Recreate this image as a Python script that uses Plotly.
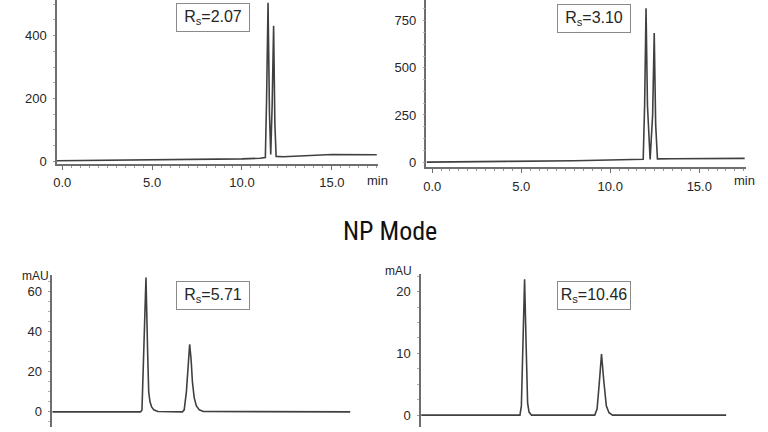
import plotly.graph_objects as go

W, H = 768, 432

# ---------------- data ----------------
# Top-left chromatogram (time in min, signal)
tl_time = [-0.29, 2.0, 6.0, 9.0, 10.0, 11.0, 11.30, 11.37, 11.45, 11.53, 11.60, 11.68, 11.76, 11.83,
           11.90, 12.3, 13.0, 14.0, 15.0, 17.5]
tl_signal = [2, 3, 5, 7, 8, 10, 12, 200, 505, 150, 22, 180, 432, 120, 16, 15, 17, 21, 22, 21]

# Top-right chromatogram
tr_time = [-0.32, 4.05, 4.15, 8.0, 10.0, 11.5, 11.85, 11.93, 12.01, 12.09, 12.24, 12.38, 12.47,
           12.55, 12.65, 13.5, 15.0, 17.55]
tr_signal = [0, 1, 4, 7, 10, 13, 15, 300, 817, 300, 14, 250, 685, 200, 17, 18, 19, 20]

# Bottom-left chromatogram (NP mode)
bl_time = [0, 4.85, 4.93, 5.04, 5.15, 5.24, 5.30, 5.37, 5.46, 5.58, 5.80, 7.15, 7.25, 7.37, 7.47,
           7.55, 7.63, 7.70, 7.80, 7.92, 8.08, 8.30, 16.37]
bl_signal = [0, 0, 1, 30, 67, 30, 10, 5, 2.5, 1, 0.2, 0, 1, 10, 26, 33.7, 26, 15, 7, 3, 1, 0.2, 0]

# Bottom-right chromatogram (NP mode)
br_time = [0, 5.55, 5.63, 5.72, 5.81, 5.90, 5.98, 6.06, 6.20, 9.75, 9.88, 10.0, 10.13, 10.26,
           10.40, 10.55, 10.75, 17.13]
br_signal = [0, 0, 1.5, 11, 22, 11, 2, 0.5, 0, 0, 1, 5, 9.9, 5.5, 1.5, 0.4, 0, 0]

resolutions = ["2.07", "3.10", "5.71", "10.46"]
x_ticks_top = [0, 5, 10, 15]
x_tick_text_top = ["0.0", "5.0", "10.0", "15.0"]
tl_yticks = [0, 200, 400]
tr_yticks = [0, 250, 500, 750]
bl_yticks = [0, 20, 40, 60]
br_yticks = [0, 10, 20]
title_text = "NP Mode"
x_unit = "min"
y_unit = "mAU"

# ---------------- figure ----------------
LINE = "#404040"
AXIS = "#6e6e6e"
TXT = "#262626"
FONT = "Liberation Sans, Arial, sans-serif"

fig = go.Figure()
series = [(tl_time, tl_signal, "x", "y"), (tr_time, tr_signal, "x2", "y2"),
          (bl_time, bl_signal, "x3", "y3"), (br_time, br_signal, "x4", "y4")]
for t, s, xa, ya in series:
    fig.add_trace(go.Scatter(x=t, y=s, mode="lines", xaxis=xa, yaxis=ya,
                             line=dict(color=LINE, width=1.6), showlegend=False,
                             hoverinfo="skip"))

def px(x):
    return x / W

def py(y):
    return 1 - y / H

tickfont = dict(family=FONT, size=13, color=TXT)

def xaxis_top(dom, rng):
    return dict(domain=dom, range=rng, showline=True, linecolor=AXIS, linewidth=1.5,
                showgrid=False, zeroline=False, tickvals=x_ticks_top, ticktext=x_tick_text_top,
                ticks="outside", ticklen=4, tickcolor=AXIS, tickfont=tickfont,
                ticklabelstandoff=2,
                minor=dict(dtick=0.5, ticks="outside", ticklen=2, tickcolor="#9a9a9a"),
                fixedrange=True)

def xaxis_bottom(dom, rng):
    return dict(domain=dom, range=rng, showline=False, showgrid=False, zeroline=False,
                showticklabels=False, ticks="", fixedrange=True)

def yaxis(dom, rng, tv, anchor):
    return dict(domain=dom, range=rng, anchor=anchor, showline=True, linecolor=AXIS,
                linewidth=1.5, showgrid=False, zeroline=False, tickvals=tv,
                ticks="outside", ticklen=2, tickcolor="#9a9a9a", tickfont=tickfont,
                ticklabelstandoff=4,
                minor=dict(dtick=(tv[1] - tv[0]) / 4, ticks="outside", ticklen=2,
                           tickcolor="#b0b0b0"),
                fixedrange=True)

fig.update_layout(
    width=W, height=H, margin=dict(l=0, r=0, t=0, b=0),
    paper_bgcolor="white", plot_bgcolor="white",
    xaxis=dict(xaxis_top([px(53.3), px(376)], [-0.29, 17.57]), anchor="y"),
    yaxis=yaxis([py(165.7), 1.0], [-7.5, 513.6], tl_yticks, "x"),
    xaxis2=dict(xaxis_top([px(424.7), px(746)], [-0.32, 17.63]), anchor="y2"),
    yaxis2=yaxis([py(169.3), 1.0], [-27.8, 860.2], tr_yticks, "x2"),
    xaxis3=dict(xaxis_bottom([px(48.5), px(376)], [0, 17.9]), anchor="y3"),
    yaxis3=yaxis([0.0, py(278.5)], [-7.54, 68.1], bl_yticks, "x3"),
    xaxis4=dict(xaxis_bottom([px(419.3), px(746)], [0, 18.25]), anchor="y4"),
    yaxis4=yaxis([0.0, py(277)], [-1.92, 22.9], br_yticks, "x4"),
)

ann = []
# Rs boxes
for (cx, cy), r in zip([(210.5, 18), (593, 18.5), (210.5, 299), (593, 299)], resolutions):
    ann.append(dict(xref="paper", yref="paper", x=px(cx), y=py(cy), xanchor="center",
                    yanchor="middle", showarrow=False, text="R<sub>s</sub>=" + r,
                    font=dict(family=FONT, size=16, color=TXT), bordercolor="#8a8a8a",
                    borderwidth=1, borderpad=1, width=70, height=25, bgcolor="white"))
# min labels
for cx, cy in [(375, 182.5), (744, 183)]:
    ann.append(dict(xref="paper", yref="paper", x=px(cx), y=py(cy), xanchor="center",
                    yanchor="middle", showarrow=False, text=x_unit, font=tickfont))
# mAU labels
for cx, cy in [(31.5, 279), (397, 274)]:
    ann.append(dict(xref="paper", yref="paper", x=px(cx), y=py(cy), xanchor="center",
                    yanchor="middle", showarrow=False, text=y_unit,
                    font=dict(family=FONT, size=12, color=TXT)))
# title
ann.append(dict(xref="paper", yref="paper", x=px(388), y=py(234), xanchor="center",
                yanchor="middle", showarrow=False, text=title_text,
                font=dict(family="Liberation Sans Narrow, Arial Narrow, Roboto Condensed, sans-serif",
                          size=26, color="#111111")))
fig.update_layout(annotations=ann)

fig.write_html("out.html")
